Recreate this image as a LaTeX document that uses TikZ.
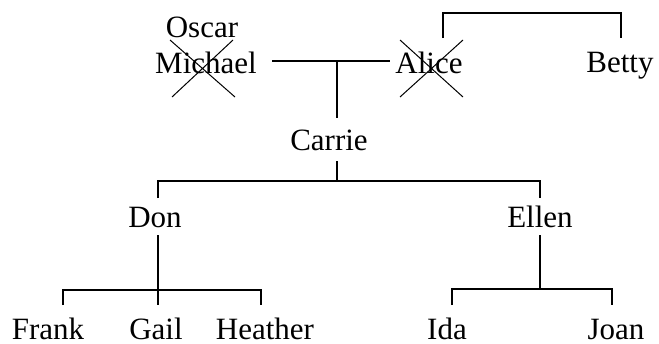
\documentclass[tikz,border=0pt]{standalone}
\usepackage{fontspec}
\setmainfont{Liberation Serif}
\begin{document}
\begin{tikzpicture}[x=1pt,y=-1pt,
  person/.style={inner sep=0pt,anchor=base,text depth=0pt,font=\fontsize{31}{31}\selectfont},
  link/.style={line width=2.7pt},
  strike/.style={line width=1pt}]
\useasboundingbox (0,0) rectangle (659,343);
% names
\node[person] (oscar)   at (202,37)  {Oscar};
\node[person] (michael) at (206,73)  {Michael};
\node[person] (alice)   at (429,73)  {Alice};
\node[person] (betty)   at (620,72)  {Betty};
\node[person] (carrie)  at (329,150) {Carrie};
\node[person] (don)     at (155,227) {Don};
\node[person] (ellen)   at (540,227) {Ellen};
\node[person] (frank)   at (48,339)  {Frank};
\node[person] (gail)    at (156,339) {Gail};
\node[person] (heather) at (265,339) {Heather};
\node[person] (ida)     at (447,339) {Ida};
\node[person] (joan)    at (616,339) {Joan};
% deceased marks
\draw[strike] (170,40) -- (235,97) (172,97) -- (233,40);
\draw[strike] (400,40) -- (463,97) (400,97) -- (463,40);
% marriage line and child
\coordinate (mid) at (337,61);
\draw[link] (272,61) -- (390,61);
\draw[link] (mid) -- (337,118);
% Alice--Betty bracket
\draw[link] (443,38) -- (443,13) -- (621,13) -- (621,38);
% Carrie's children
\draw[link] (337,161) -- (337,181);
\draw[link] (158,198) -- (158,181) -- (540,181) -- (540,198);
% Don's children
\draw[link] (158,235) -- (158,305);
\draw[link] (63,305) -- (63,290) -- (261,290) -- (261,305);
% Ellen's children
\draw[link] (540,235) -- (540,289);
\draw[link] (452,305) -- (452,289) -- (612,289) -- (612,305);
\end{tikzpicture}
\end{document}
